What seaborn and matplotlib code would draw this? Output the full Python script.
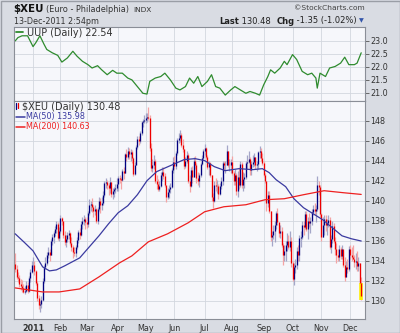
import numpy as np
import pandas as pd
import matplotlib
matplotlib.use("Agg")
import matplotlib.pyplot as plt
from matplotlib.lines import Line2D
import seaborn as sns

# ---------------------------------------------------------------- data
holidays = ["2010-12-24", "2011-01-17", "2011-02-21", "2011-04-22",
            "2011-05-30", "2011-07-04", "2011-09-05", "2011-11-24"]
sessions = pd.bdate_range("2010-12-14", "2011-12-13", freq="C", holidays=holidays)

opens = [
    133.7, 133.2, 132.4, 132.3, 131.7, 131.5, 131.3, 130.9, 131.0, 131.6, 131.0, 132.3, 132.9,
    133.6, 133.6, 133.0, 131.8, 130.3, 129.6, 129.7, 130.1, 132.0, 133.4, 133.8, 134.6, 134.9, 134.6, 136.0, 136.4, 136.8, 137.2, 137.7, 136.3,
    137.0, 138.3, 138.0, 136.6, 135.9, 136.2, 136.6, 136.8, 135.8, 135.4, 134.9, 134.8, 135.4, 136.1, 136.9, 136.6, 137.7, 138.0, 138.2,
    137.9, 137.7, 138.8, 139.6, 139.7, 139.4, 139.0, 139.2, 138.0, 139.2, 140.0, 139.6, 139.8, 140.6, 141.8, 141.9, 141.6, 141.3, 141.9, 140.7, 141.0, 141.2, 141.3,
    141.7, 142.3, 142.2, 142.1, 143.0, 142.8, 144.7, 144.4, 145.0, 144.7, 144.9, 144.3, 142.7, 143.6, 145.4, 146.2, 146.0, 146.8, 147.9, 148.0,
    148.1, 148.3, 148.4, 148.3, 145.3, 143.3, 143.6, 144.0, 142.0, 141.7, 141.2, 141.5, 142.6, 142.9, 142.5, 141.6, 140.4, 140.9, 141.2, 141.4, 143.1,
    143.9, 143.5, 144.8, 146.1, 146.3, 146.6, 145.6, 145.2, 143.5, 144.0, 144.6, 142.0, 141.5, 143.1, 142.4, 144.0, 143.6, 142.3, 142.0, 142.6, 143.7, 144.3,
    145.0, 145.3, 144.4, 143.4, 143.8, 142.6, 140.4, 140.0, 141.6, 141.5, 141.5, 140.7, 141.5, 142.0, 143.8, 143.6, 143.6, 145.0, 143.6, 143.6,
    143.9, 142.8, 142.0, 142.6, 141.0, 142.4, 141.6, 143.7, 141.6, 142.2, 142.4, 143.8, 143.9, 144.2, 143.1, 143.7, 143.9, 144.4, 143.6, 143.7, 144.9, 145.0, 144.3,
    143.8, 142.6, 142.0, 139.8, 140.6, 139.0, 136.4, 136.6, 137.0, 137.6, 138.8, 137.9, 136.8, 137.0, 135.6, 134.6, 135.0, 135.6, 136.0, 135.4, 136.0,
    133.8, 132.2, 133.4, 133.6, 135.0, 134.6, 136.3, 136.4, 137.6, 137.4, 138.7, 137.2, 138.0, 137.8, 138.0, 138.9, 139.2, 139.0, 139.2, 141.6, 141.4,
    138.7, 136.4, 137.6, 138.2, 137.6, 137.8, 138.1, 135.4, 136.2, 137.5, 136.0, 135.2, 134.6, 134.4, 135.2, 134.5, 135.2, 133.6, 132.4, 133.4, 133.2,
    135.2, 134.6, 134.4, 134.2, 133.9, 134.0, 133.5, 133.8, 131.83,
]
highs = [
    134.8, 133.6, 132.9, 132.6, 132.2, 132.1, 131.7, 131.5, 132.0, 131.9, 132.5, 133.2, 134.0,
    134.4, 134.0, 133.1, 132.0, 130.6, 130.0, 130.5, 132.3, 133.6, 134.4, 134.9, 135.4, 135.2, 136.2, 136.7, 137.0, 137.5, 138.0, 137.9, 137.4,
    138.6, 138.4, 138.0, 137.0, 136.6, 136.9, 137.1, 136.9, 136.4, 135.6, 135.4, 135.6, 136.4, 137.1, 137.3, 138.0, 138.4, 138.6, 138.4,
    138.4, 139.0, 140.2, 140.0, 140.3, 139.6, 139.6, 139.3, 139.4, 140.4, 140.3, 140.4, 141.0, 142.0, 142.3, 142.1, 141.8, 142.4, 141.9, 141.3, 141.4, 141.7, 142.3,
    142.5, 142.6, 142.4, 143.2, 143.4, 144.8, 145.2, 145.4, 145.3, 145.2, 145.1, 144.4, 143.9, 145.6, 146.5, 146.5, 147.0, 148.0, 148.2, 148.6,
    148.8, 148.8, 149.4, 148.6, 145.8, 144.2, 144.6, 144.2, 142.6, 142.2, 142.0, 142.9, 143.4, 143.4, 142.8, 141.4, 141.3, 141.6, 141.8, 143.3, 144.4,
    144.5, 145.0, 146.3, 146.8, 147.1, 146.8, 146.2, 145.2, 144.4, 145.0, 144.8, 142.6, 143.4, 143.5, 144.4, 144.5, 143.8, 142.9, 142.8, 143.9, 144.6, 145.2,
    145.7, 145.4, 144.6, 144.0, 143.9, 142.6, 140.8, 142.0, 142.3, 142.1, 141.7, 141.8, 142.4, 144.0, 144.0, 144.0, 145.6, 145.0, 144.2, 144.2,
    144.5, 143.0, 143.2, 142.8, 143.0, 143.4, 144.0, 143.9, 142.9, 142.8, 144.0, 144.6, 145.0, 144.4, 144.0, 144.6, 144.8, 144.4, 144.0, 145.0, 145.5, 145.3, 144.8,
    144.0, 142.8, 142.0, 141.0, 141.0, 139.0, 137.0, 137.6, 138.0, 139.0, 139.3, 137.8, 137.6, 137.4, 135.8, 135.6, 136.0, 136.8, 136.6, 137.0, 136.4,
    134.0, 133.8, 134.2, 135.4, 135.6, 136.6, 137.0, 138.0, 138.0, 139.0, 139.0, 138.4, 138.8, 138.4, 139.2, 139.6, 139.8, 139.6, 142.5, 142.0, 141.6,
    138.8, 138.4, 138.6, 138.6, 138.2, 138.6, 138.4, 136.6, 138.0, 137.8, 136.4, 135.8, 135.2, 135.6, 135.4, 135.6, 135.0, 134.4, 134.0, 134.2, 135.5,
    135.6, 135.4, 135.6, 134.6, 134.8, 135.0, 134.4, 133.8, 132.4,
]
lows = [
    132.9, 132.2, 131.9, 131.4, 131.1, 130.9, 130.8, 130.7, 130.9, 130.8, 130.9, 131.9, 132.8,
    133.2, 132.6, 131.6, 130.0, 129.2, 128.9, 129.3, 130.0, 131.8, 133.2, 133.6, 134.3, 134.0, 134.6, 135.6, 135.8, 136.5, 136.8, 136.1, 136.0,
    136.8, 137.6, 136.3, 135.6, 135.4, 135.9, 136.2, 135.6, 135.0, 134.3, 134.5, 134.4, 135.2, 135.8, 136.2, 136.5, 137.2, 137.6, 137.2,
    137.3, 137.4, 138.6, 139.0, 138.9, 138.4, 138.6, 137.8, 137.7, 139.0, 138.8, 139.1, 139.6, 140.4, 141.3, 141.2, 140.6, 140.8, 140.4, 140.2, 140.4, 140.8, 141.0,
    141.0, 141.8, 141.2, 142.0, 142.2, 142.8, 144.0, 144.2, 144.2, 144.0, 143.8, 142.5, 142.6, 143.6, 145.2, 145.6, 145.8, 146.6, 147.4, 147.8,
    147.8, 147.9, 148.1, 145.0, 143.0, 142.9, 143.2, 141.8, 141.2, 141.0, 141.0, 141.4, 142.0, 142.2, 141.4, 139.9, 140.2, 140.3, 140.8, 141.3, 142.8,
    143.2, 143.2, 144.6, 145.8, 145.9, 145.4, 144.9, 143.2, 143.3, 143.8, 141.8, 140.9, 141.4, 141.8, 142.4, 143.2, 141.8, 141.6, 141.4, 142.4, 143.6, 144.1,
    144.6, 144.2, 143.2, 142.6, 142.4, 140.0, 139.3, 139.9, 141.0, 140.8, 140.2, 140.6, 141.2, 141.6, 143.0, 142.8, 143.6, 143.4, 143.0, 142.8,
    142.6, 141.6, 141.6, 140.6, 140.4, 141.2, 141.4, 141.3, 141.0, 141.3, 142.2, 143.2, 143.8, 142.6, 142.6, 143.4, 143.5, 143.2, 143.0, 143.2, 144.3, 144.0, 143.6,
    142.4, 141.8, 139.0, 139.4, 138.8, 136.0, 135.5, 136.2, 135.9, 137.2, 137.6, 136.4, 136.3, 135.4, 133.6, 134.0, 134.0, 135.0, 135.2, 135.0, 133.4,
    132.0, 131.6, 132.8, 133.2, 134.0, 134.0, 135.4, 136.2, 136.6, 137.2, 137.0, 136.2, 137.4, 136.8, 137.6, 138.6, 138.6, 137.9, 139.0, 140.6, 138.4,
    136.0, 136.4, 136.6, 137.0, 136.6, 137.4, 135.2, 134.8, 135.8, 135.8, 134.6, 133.8, 134.0, 134.0, 134.2, 134.2, 133.4, 132.0, 132.8, 132.8, 133.0,
    134.2, 134.0, 134.2, 133.4, 133.2, 133.0, 133.0, 131.6, 130.1,
]
closes = [
    133.2, 132.4, 132.3, 131.7, 131.5, 131.3, 130.9, 131.0, 131.6, 131.0, 132.3, 132.9, 133.6,
    133.6, 133.0, 131.8, 130.3, 129.6, 129.7, 130.1, 132.0, 133.4, 133.8, 134.6, 134.9, 134.6, 136.0, 136.4, 136.8, 137.2, 137.7, 136.3, 137.0,
    138.3, 138.0, 136.6, 135.9, 136.2, 136.6, 136.8, 135.8, 135.4, 134.9, 134.8, 135.4, 136.1, 136.9, 136.6, 137.7, 138.0, 138.2, 137.9,
    137.7, 138.8, 139.6, 139.7, 139.4, 139.0, 139.2, 138.0, 139.2, 140.0, 139.6, 139.8, 140.6, 141.8, 141.9, 141.6, 141.3, 141.9, 140.7, 141.0, 141.2, 141.3, 141.7,
    142.3, 142.2, 142.1, 143.0, 142.8, 144.7, 144.4, 145.0, 144.7, 144.9, 144.3, 142.7, 143.6, 145.4, 146.2, 146.0, 146.8, 147.9, 148.0, 148.1,
    148.3, 148.4, 148.3, 145.3, 143.3, 143.6, 144.0, 142.0, 141.7, 141.2, 141.5, 142.6, 142.9, 142.5, 141.6, 140.4, 140.9, 141.2, 141.4, 143.1, 143.9,
    143.5, 144.8, 146.1, 146.3, 146.6, 145.6, 145.2, 143.5, 144.0, 144.6, 142.0, 141.5, 143.1, 142.4, 144.0, 143.6, 142.3, 142.0, 142.6, 143.7, 144.3, 145.0,
    145.3, 144.4, 143.4, 143.8, 142.6, 140.4, 140.0, 141.6, 141.5, 141.5, 140.7, 141.5, 142.0, 143.8, 143.6, 143.6, 145.0, 143.6, 143.6, 143.9,
    142.8, 142.0, 142.6, 141.0, 142.4, 141.6, 143.7, 141.6, 142.2, 142.4, 143.8, 143.9, 144.2, 143.1, 143.7, 143.9, 144.4, 143.6, 143.7, 144.9, 145.0, 144.3, 143.8,
    142.6, 142.0, 139.8, 140.6, 139.0, 136.4, 136.6, 137.0, 137.6, 138.8, 137.9, 136.8, 137.0, 135.6, 134.6, 135.0, 135.6, 136.0, 135.4, 136.0, 133.8,
    132.2, 133.4, 133.6, 135.0, 134.6, 136.3, 136.4, 137.6, 137.4, 138.7, 137.2, 138.0, 137.8, 138.0, 138.9, 139.2, 139.0, 139.2, 141.6, 141.4, 138.7,
    136.4, 137.6, 138.2, 137.6, 137.8, 138.1, 135.4, 136.2, 137.5, 136.0, 135.2, 134.6, 134.4, 135.2, 134.5, 135.2, 133.6, 132.4, 133.4, 133.2, 135.2,
    134.6, 134.4, 134.2, 133.9, 134.0, 133.5, 133.8, 131.83, 130.48,
]

ma50_dates = ["2010-12-14", "2010-12-23", "2011-01-03", "2011-01-12", "2011-01-20", "2011-01-27",
              "2011-02-04", "2011-02-22", "2011-03-03", "2011-03-14", "2011-03-23", "2011-04-01",
              "2011-04-12", "2011-04-21", "2011-05-03", "2011-05-12", "2011-05-26", "2011-06-10",
              "2011-06-22", "2011-07-01", "2011-07-13", "2011-07-25", "2011-08-08", "2011-08-22",
              "2011-08-31", "2011-09-08", "2011-09-15", "2011-09-26", "2011-10-04", "2011-10-13",
              "2011-10-24", "2011-11-02", "2011-11-11", "2011-11-22", "2011-12-02", "2011-12-13"]
ma50_vals = [136.7, 135.8, 135.0, 133.4, 133.0, 133.1, 133.5, 134.3, 135.4, 136.5, 137.7, 138.8,
             139.5, 140.6, 142.0, 142.9, 143.5, 144.1, 144.2, 144.0, 143.4, 143.0, 143.2, 143.1,
             143.2, 142.8, 142.1, 141.4, 140.2, 139.3, 138.7, 138.1, 137.3, 136.5, 136.2, 135.98]

ma200_dates = ["2010-12-14", "2011-01-12", "2011-01-31", "2011-02-22", "2011-03-14", "2011-04-04",
               "2011-04-15", "2011-05-04", "2011-05-24", "2011-06-15", "2011-07-01", "2011-07-22",
               "2011-08-15", "2011-09-02", "2011-09-23", "2011-10-13", "2011-11-03", "2011-11-23",
               "2011-12-13"]
ma200_vals = [131.3, 130.9, 130.9, 131.2, 132.4, 133.8, 134.5, 135.9, 136.7, 137.8, 138.9, 139.4,
              139.6, 140.1, 140.2, 140.6, 141.0, 140.8, 140.63]

uup_dates = ["2010-12-14", "2010-12-16", "2010-12-21", "2010-12-28", "2011-01-03", "2011-01-05",
             "2011-01-10", "2011-01-13", "2011-01-18", "2011-01-24", "2011-01-28", "2011-02-02",
             "2011-02-08", "2011-02-14", "2011-02-17", "2011-02-24", "2011-03-02", "2011-03-07",
             "2011-03-11", "2011-03-16", "2011-03-22", "2011-03-28", "2011-03-31", "2011-04-06",
             "2011-04-12", "2011-04-15", "2011-04-21", "2011-04-28", "2011-05-03", "2011-05-05",
             "2011-05-11", "2011-05-17", "2011-05-20", "2011-05-26", "2011-06-02", "2011-06-07",
             "2011-06-13", "2011-06-16", "2011-06-21", "2011-06-24", "2011-06-29", "2011-07-06",
             "2011-07-11", "2011-07-14", "2011-07-19", "2011-07-25", "2011-07-29", "2011-08-03",
             "2011-08-09", "2011-08-15", "2011-08-18", "2011-08-24", "2011-08-29", "2011-09-01",
             "2011-09-07", "2011-09-09", "2011-09-14", "2011-09-20", "2011-09-23", "2011-09-27",
             "2011-10-03", "2011-10-06", "2011-10-12", "2011-10-18", "2011-10-21", "2011-10-26",
             "2011-10-27", "2011-10-31", "2011-11-04", "2011-11-09", "2011-11-15", "2011-11-21",
             "2011-11-25", "2011-11-30", "2011-12-06", "2011-12-08", "2011-12-13"]
uup_vals = [23.00, 23.13, 23.20, 23.20, 22.78, 22.93, 23.20, 22.87, 22.67, 22.54, 22.44, 22.18,
            22.34, 22.60, 22.41, 22.21, 22.08, 21.95, 22.04, 21.88, 21.69, 21.86, 21.75, 21.75,
            21.56, 21.49, 21.23, 20.97, 20.94, 21.43, 21.56, 21.62, 21.75, 21.49, 21.17, 21.10,
            21.23, 21.56, 21.36, 21.62, 21.23, 21.43, 21.69, 21.23, 21.17, 20.90, 21.10, 21.23,
            21.10, 20.97, 21.04, 20.97, 20.90, 21.30, 21.62, 21.88, 21.75, 21.95, 22.21, 22.08,
            22.47, 22.28, 21.82, 21.69, 21.75, 21.56, 21.17, 21.75, 21.62, 21.95, 22.01, 22.14,
            22.37, 22.08, 22.08, 22.14, 22.54]

month_labels = ["2011", "Feb", "Mar", "Apr", "May", "Jun", "Jul", "Aug", "Sep", "Oct", "Nov", "Dec"]
price_ticks = [130, 132, 134, 136, 138, 140, 142, 144, 146, 148]
uup_ticks = [21.0, 21.5, 22.0, 22.5, 23.0]

# ---------------------------------------------------------------- style
sns.set_style("white")
plt.rcParams["font.family"] = ["DejaVu Sans"]

FIG_BG = "#d9dce3"
PANEL_BG = "#f6f7fb"
GRID = "#d3d7df"
FRAME = "#8a8e97"
TXT = "#333333"
UP_BODY, UP_WICK = "#000080", "#a4a6c8"
DN_BODY, DN_WICK = "#ee0000", "#f4a4a4"
MA50_C, MA200_C = "#3a3aa0", "#ee2020"
UUP_C = "#2e8b2e"

W, H = 400, 333
fig = plt.figure(figsize=(W / 100, H / 100), dpi=100, facecolor=FIG_BG)

L, R = 14.5, 364.5
ax_top = fig.add_axes([L / W, 1 - 100.5 / H, (R - L) / W, 74 / H])
ax = fig.add_axes([L / W, 1 - 319 / H, (R - L) / W, 218.5 / H])

n = len(sessions)
pos = np.arange(n)
frame = pd.DataFrame({"pos": pos, "open": opens, "high": highs, "low": lows, "close": closes},
                     index=sessions)
up = frame["close"] >= frame["open"]

def to_pos(dates):
    return sessions.get_indexer(pd.to_datetime(dates))

# first session of each month in 2011
yr = frame[frame.index.year == 2011]
month_pos = yr.groupby(yr.index.month)["pos"].min().values

jan3 = frame.loc["2011-01-03", "pos"]
xlim = (jan3 - 13.5, jan3 + 241.4)

for a in (ax, ax_top):
    a.set_facecolor(PANEL_BG)
    a.set_xlim(*xlim)
    a.set_xticks(month_pos)
    a.grid(True, color=GRID, linewidth=0.6)
    a.set_axisbelow(True)
    for s in a.spines.values():
        s.set_color(FRAME)
        s.set_linewidth(0.8)
    a.yaxis.tick_right()
    a.tick_params(axis="y", which="both", right=True, length=3, width=0.6, colors="#555555",
                  labelsize=5.8, pad=1, labelcolor=TXT)

# ---------------------------------------------------------------- price bars
lw = 0.9
for mask, wick_c, body_c in ((up, UP_WICK, UP_BODY), (~up, DN_WICK, DN_BODY)):
    f = frame[mask]
    ax.vlines(f["pos"], f["low"], f["high"], color=wick_c, linewidth=lw, zorder=3)
    ax.vlines(f["pos"], f[["open", "close"]].min(axis=1), f[["open", "close"]].max(axis=1),
              color=body_c, linewidth=lw, zorder=4)

# highlight of the latest session
last = frame.iloc[-1]
ax.vlines(last["pos"], last["low"], last["open"], color="#ffee00", linewidth=2.6, zorder=3.5)

ma50 = pd.DataFrame({"pos": to_pos(ma50_dates), "v": ma50_vals})
ma200 = pd.DataFrame({"pos": to_pos(ma200_dates), "v": ma200_vals})
sns.lineplot(data=ma50, x="pos", y="v", ax=ax, color=MA50_C, linewidth=0.9, zorder=5)
sns.lineplot(data=ma200, x="pos", y="v", ax=ax, color=MA200_C, linewidth=0.9, zorder=5)

ax.set_ylim(128.2, 150.0)
ax.set_yticks(price_ticks)
ax.set_yticklabels([f"{t:d}" for t in price_ticks])
ax.set_xticklabels(month_labels)
ax.tick_params(axis="x", length=0, labelsize=5.8, pad=3.5, labelcolor=TXT)
ax.get_xticklabels()[0].set_fontweight("bold")
ax.set_xlabel("")
ax.set_ylabel("")

# ---------------------------------------------------------------- UUP panel
uup = pd.DataFrame({"pos": to_pos(uup_dates), "v": uup_vals})
sns.lineplot(data=uup, x="pos", y="v", ax=ax_top, color=UUP_C, linewidth=0.9)
ax_top.set_ylim(20.69, 23.56)
ax_top.set_yticks(uup_ticks)
ax_top.set_yticklabels([f"{t:.1f}" for t in uup_ticks])
ax_top.tick_params(axis="x", labelbottom=False, length=0)
ax_top.set_xlabel("")
ax_top.set_ylabel("")

# ---------------------------------------------------------------- text
def ftext(x, y, s, **kw):
    kw.setdefault("color", TXT)
    kw.setdefault("fontsize", 6)
    kw.setdefault("va", "center")
    return fig.text(x / W, 1 - y / H, s, **kw)

def fline(x0, x1, y, color, lw=1.2):
    fig.add_artist(Line2D([x0 / W, x1 / W], [1 - y / H, 1 - y / H], color=color, linewidth=lw))

ftext(13.5, 9.5, "$XEU", fontsize=7.4, fontweight="bold", color="#111111")
ftext(46, 9.5, "(Euro - Philadelphia)", fontsize=5.85)
ftext(133.5, 9.5, "INDX", fontsize=5.3)
ftext(14, 21, "13-Dec-2011 2:54pm", fontsize=5.8)
ftext(365, 8.5, "\u00a9StockCharts.com", fontsize=5.4, ha="right", color="#444444")

# header line with bold keys
parts = [("Last", "bold"), (" 130.48  ", "normal"), ("Chg", "bold"), (" -1.35 (-1.02%)", "normal")]
fig.canvas.draw()
renderer = fig.canvas.get_renderer()
widths = []
objs = []
for s, wgt in parts:
    t = ftext(0, 21, s, fontsize=6.0, fontweight=wgt, color="#222222")
    objs.append(t)
    widths.append(t.get_window_extent(renderer).width)
xcur = 357 - sum(widths)
for t, wdt in zip(objs, widths):
    t.set_x(xcur / W)
    xcur += wdt
ftext(361, 21, "\u25bc", fontsize=4.5, ha="center", color="#3355aa")

# panel legends
fline(15.5, 22.5, 32, UUP_C, 1.3)
ftext(27, 32.5, "UUP (Daily) 22.54", fontsize=6.9)

fig.add_artist(Line2D([16.0 / W, 16.0 / W], [1 - 103.5 / H, 1 - 109 / H], color=UP_BODY, linewidth=0.9))
fig.add_artist(Line2D([18.3 / W, 18.3 / W], [1 - 102.5 / H, 1 - 107.5 / H], color=DN_BODY, linewidth=0.9))
ftext(22, 106.5, "$XEU (Daily) 130.48", fontsize=7.0)
fline(15.5, 24.5, 116.5, MA50_C, 1.1)
ftext(25.5, 116.5, "MA(50) 135.98", fontsize=5.8, color=MA50_C)
fline(15.5, 24.5, 126.5, MA200_C, 1.1)
ftext(25.5, 126.5, "MA(200) 140.63", fontsize=5.8, color=MA200_C)

# outer border of the chart image
fig.add_artist(plt.Rectangle((0.5 / W, 0.5 / H), 1 - 1 / W, 1 - 1 / H, transform=fig.transFigure,
                             fill=False, edgecolor="#9a9ea6", linewidth=1.0))

fig.savefig("out.png", dpi=100, facecolor=FIG_BG)
